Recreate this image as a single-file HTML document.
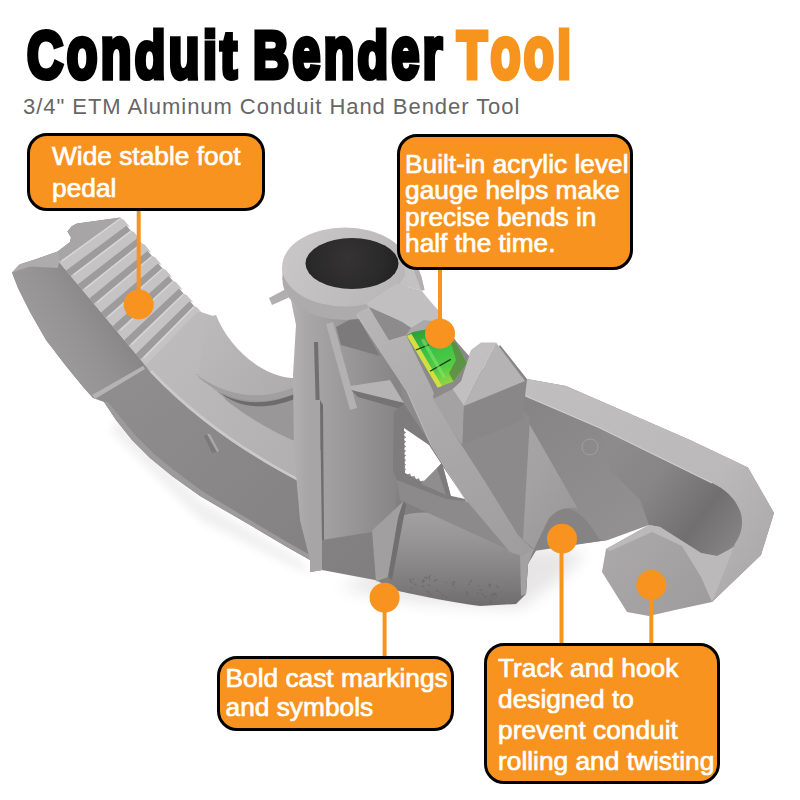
<!DOCTYPE html>
<html><head><meta charset="utf-8">
<style>
html,body{margin:0;padding:0;background:#fff;}
body{width:800px;height:800px;overflow:hidden;position:relative;font-family:"Liberation Sans",sans-serif;}
#stage{position:absolute;left:0;top:0;width:800px;height:800px;}
.w{position:absolute;top:14.5px;white-space:nowrap;transform-origin:0 0;font-weight:bold;color:#000;font-family:"Liberation Sans",sans-serif;font-size:66px;line-height:80px;-webkit-text-stroke:5px;letter-spacing:4.5px}
.w b{display:inline-block;font-weight:bold;transform:scaleY(1.13);transform-origin:0 63px}
.w.o{color:#f7941d}
.sub{position:absolute;left:23px;top:93.5px;font-size:22px;line-height:26px;color:#666;white-space:nowrap;letter-spacing:0.95px;}
.box{position:absolute;box-sizing:border-box;background:#f7931e;border:3px solid #000;border-radius:20px;color:#fff;font-size:26.3px;line-height:31px;-webkit-text-stroke:0.7px #fff;}
</style></head>
<body>
<div id="stage">
<svg id="art" width="800" height="800" viewBox="0 0 800 800" style="position:absolute;left:0;top:0">
<defs><filter id="blur8" x="-30%" y="-30%" width="160%" height="160%"><feGaussianBlur stdDeviation="8"/></filter><filter id="blur4" x="-30%" y="-30%" width="160%" height="160%"><feGaussianBlur stdDeviation="4"/></filter><filter id="blur2" x="-30%" y="-30%" width="160%" height="160%"><feGaussianBlur stdDeviation="2"/></filter><filter id="blur1" x="-30%" y="-30%" width="160%" height="160%"><feGaussianBlur stdDeviation="1"/></filter><linearGradient id="gBody" gradientUnits="userSpaceOnUse" x1="120" y1="380" x2="330" y2="600"><stop offset="0" stop-color="#8f8d8d"/><stop offset="0.45" stop-color="#898787"/><stop offset="1" stop-color="#817f7f"/></linearGradient><linearGradient id="gSide" gradientUnits="userSpaceOnUse" x1="35" y1="330" x2="95" y2="290"><stop offset="0" stop-color="#9c9a9a"/><stop offset="0.5" stop-color="#949292"/><stop offset="1" stop-color="#888686"/></linearGradient><linearGradient id="gRim" gradientUnits="userSpaceOnUse" x1="150" y1="370" x2="300" y2="480"><stop offset="0" stop-color="#bdbbbb"/><stop offset="1" stop-color="#b1afaf"/></linearGradient><linearGradient id="gHorn" gradientUnits="userSpaceOnUse" x1="213" y1="320" x2="295" y2="390"><stop offset="0" stop-color="#bbb9b9"/><stop offset="1" stop-color="#aeacac"/></linearGradient><linearGradient id="gArm" gradientUnits="userSpaceOnUse" x1="540" y1="400" x2="640" y2="540"><stop offset="0" stop-color="#878585"/><stop offset="1" stop-color="#939191"/></linearGradient><linearGradient id="gWeb" gradientUnits="userSpaceOnUse" x1="450" y1="430" x2="580" y2="520"><stop offset="0" stop-color="#aaa8a8"/><stop offset="0.6" stop-color="#a4a2a2"/><stop offset="1" stop-color="#9a9898"/></linearGradient><linearGradient id="gRimA" gradientUnits="userSpaceOnUse" x1="520" y1="380" x2="770" y2="560"><stop offset="0" stop-color="#c0bebe"/><stop offset="0.7" stop-color="#bbb9b9"/><stop offset="1" stop-color="#aba9a9"/></linearGradient><linearGradient id="gU" gradientUnits="userSpaceOnUse" x1="610" y1="450" x2="735" y2="545"><stop offset="0" stop-color="#8d8b8b"/><stop offset="0.35" stop-color="#878585"/><stop offset="0.72" stop-color="#716f6f"/><stop offset="1" stop-color="#858383"/></linearGradient><linearGradient id="gHook" gradientUnits="userSpaceOnUse" x1="610" y1="530" x2="700" y2="610"><stop offset="0" stop-color="#aba9a9"/><stop offset="1" stop-color="#9e9c9c"/></linearGradient><linearGradient id="gElbow" gradientUnits="userSpaceOnUse" x1="440" y1="505" x2="440" y2="605"><stop offset="0" stop-color="#a5a3a3"/><stop offset="0.35" stop-color="#979595"/><stop offset="0.8" stop-color="#7d7b7b"/><stop offset="1" stop-color="#6f6d6d"/></linearGradient><linearGradient id="gCol" gradientUnits="userSpaceOnUse" x1="283" y1="0" x2="396" y2="0"><stop offset="0" stop-color="#b9b7b7"/><stop offset="0.2" stop-color="#a9a7a7"/><stop offset="0.5" stop-color="#9d9b9b"/><stop offset="1" stop-color="#878585"/></linearGradient><linearGradient id="gRing" gradientUnits="userSpaceOnUse" x1="283" y1="230" x2="414" y2="310"><stop offset="0" stop-color="#cac8c8"/><stop offset="1" stop-color="#b5b3b3"/></linearGradient><radialGradient id="gHole" gradientUnits="userSpaceOnUse" cx="348" cy="258" r="50" ><stop offset="0" stop-color="#353333"/><stop offset="0.7" stop-color="#2b2a2a"/><stop offset="1" stop-color="#232222"/></radialGradient><linearGradient id="gBrace" gradientUnits="userSpaceOnUse" x1="360" y1="320" x2="530" y2="550"><stop offset="0" stop-color="#b7b5b5"/><stop offset="0.5" stop-color="#aaa8a8"/><stop offset="1" stop-color="#9f9d9d"/></linearGradient><linearGradient id="gVial" gradientUnits="userSpaceOnUse" x1="420" y1="325" x2="446" y2="390"><stop offset="0" stop-color="#2c9637"/><stop offset="0.35" stop-color="#37c044"/><stop offset="0.7" stop-color="#55cc44"/><stop offset="1" stop-color="#a8d840"/></linearGradient></defs>
<path d="M340,588 L420,602 L520,608 L565,575 L585,552 L545,548 L400,560Z" fill="#e7e5e5" filter="url(#blur8)"/>
<path d="M120,420 L200,500 L300,560 L310,575 L200,520 L110,430Z" fill="#f0f0f0" filter="url(#blur4)"/>
<path d="M12,272.5 L59,262 L145,365 L296,440 L400,440 L470,496 L522,552 L537,549 L528,564 L526,592 L510,603 L480,603 C450,600 425,596 399,591 L375,580 L322,570 L310,572 L310,560 L287,547 L250,525 L224,510 L200,496 L172,476 L150,458 L132,440 L116,420 L104,402 L93,398 L97,392 L93,398 L84,388 L66,366 L46,340 L30,312 L18,288 Z" fill="url(#gBody)" />
<path d="M104,402 L116,420 L132,440 L150,458 L172,476 L200,496 L224,510 L250,525 L287,547 L310,560 L310,555 L287,542 L250,520 L225,505 L202,491 L175,471 L153,453 L136,436 L120,417 L108,402Z" fill="#9c9a9a" />
<path d="M12,272.5 L19.5,264.5 L35,259.5 L57.7,251.6 L70,242 L71,237.5 L67.4,231.5 L71.7,226.2 L77,223.6 L120.7,217.5 L59,262 L145,365 L97,392 L93,398 L84,388 L66,366 L46,340 L30,312 L18,288Z" fill="url(#gSide)" />
<path d="M19.5,264.5 L35.0,259.5 L57.7,251.6 L70.0,242.0 L71.0,237.5 L67.4,231.5 L71.7,226.2 L77.0,223.6 L120.7,217.5 L59.5,261.5 L30.0,267.0Z" fill="#a7a5a5" />
<path d="M12.0,272.5 L19.5,264.5 L35.0,259.5 L57.7,251.6 L59.5,261.5 L57.7,268.0 L30.0,266.5Z" fill="#adabab" />
<path d="M92.0,395.0 L143.0,366.0 L145.0,369.0 L95.0,399.0Z" fill="#b5b3b3" />
<path d="M145,365 L198,311 L213,316 L214,324 L198,376 L228,401 C250,418 275,432 297,441 L298,481 C258,460 200,425 150,372Z" fill="url(#gRim)" />
<path d="M150,372 C200,425 258,460 298,481 L298,478 C258,457 200,421 152,370Z" fill="#cbc9c9" />
<path d="M59.0,262.0 L120.0,218.0 L198.0,311.0 L145.0,365.0Z" fill="#b3b1b1" />
<path d="M59.0,262.0 L120.0,218.0 L123.5,219.5 L130.0,227.3 L126.5,225.8 L66.2,270.6Z" fill="#c5c3c3" />
<path d="M62.0,261.0 L120.0,219.0" stroke="#d7d5d5" stroke-width="1.4" fill="none"/>
<path d="M66.2,270.6 L126.5,225.8 L130.5,230.6 L70.6,275.9Z" fill="#9d9b9b" />
<path d="M70.6,275.9 L130.5,230.6 L134.0,232.1 L140.6,239.9 L137.1,238.4 L77.8,284.5Z" fill="#c5c3c3" />
<path d="M73.6,274.9 L130.5,231.6" stroke="#d7d5d5" stroke-width="1.4" fill="none"/>
<path d="M77.8,284.5 L137.1,238.4 L141.1,243.1 L82.2,289.8Z" fill="#9d9b9b" />
<path d="M82.2,289.8 L141.1,243.1 L144.6,244.6 L151.1,252.4 L147.6,250.9 L89.4,298.5Z" fill="#c5c3c3" />
<path d="M85.2,288.8 L141.1,244.1" stroke="#d7d5d5" stroke-width="1.4" fill="none"/>
<path d="M89.4,298.5 L147.6,250.9 L151.6,255.7 L93.9,303.8Z" fill="#9d9b9b" />
<path d="M93.9,303.8 L151.6,255.7 L155.1,257.2 L161.7,265.0 L158.2,263.5 L101.1,312.4Z" fill="#c5c3c3" />
<path d="M96.9,302.8 L151.6,256.7" stroke="#d7d5d5" stroke-width="1.4" fill="none"/>
<path d="M101.1,312.4 L158.2,263.5 L162.2,268.3 L105.5,317.7Z" fill="#9d9b9b" />
<path d="M105.5,317.7 L162.2,268.3 L165.7,269.8 L172.2,277.6 L168.7,276.1 L112.7,326.3Z" fill="#c5c3c3" />
<path d="M108.5,316.7 L162.2,269.3" stroke="#d7d5d5" stroke-width="1.4" fill="none"/>
<path d="M112.7,326.3 L168.7,276.1 L172.7,280.8 L117.1,331.6Z" fill="#9d9b9b" />
<path d="M117.1,331.6 L172.7,280.8 L176.2,282.3 L182.7,290.1 L179.2,288.6 L124.3,340.2Z" fill="#c5c3c3" />
<path d="M120.1,330.6 L172.7,281.8" stroke="#d7d5d5" stroke-width="1.4" fill="none"/>
<path d="M124.3,340.2 L179.2,288.6 L183.2,293.4 L128.7,345.5Z" fill="#9d9b9b" />
<path d="M128.7,345.5 L183.2,293.4 L186.7,294.9 L193.3,302.7 L189.8,301.2 L135.9,354.1Z" fill="#c5c3c3" />
<path d="M131.7,344.5 L183.2,294.4" stroke="#d7d5d5" stroke-width="1.4" fill="none"/>
<path d="M135.9,354.1 L189.8,301.2 L193.8,306.0 L140.4,359.4Z" fill="#9d9b9b" />
<path d="M140.4,359.4 L193.8,306.0 L197.3,307.5 L201.5,312.5 L198.0,311.0 L145.0,365.0Z" fill="#c5c3c3" />
<path d="M143.4,358.4 L193.8,307.0" stroke="#d7d5d5" stroke-width="1.4" fill="none"/>
<path d="M196.0,374.0 L232.0,405.0 L297.0,405.0 L297.0,380.0Z" fill="#a7a5a5" />
<path d="M222,392 C245,400 272,398 297,386 L297,442 C275,433 250,419 226,400Z" fill="#999797" />
<path d="M207,317 L216,315 C228,345 258,375 292,378 L297,378 L297,387 C262,401 230,398 198,376Z" fill="url(#gHorn)" />
<path d="M198,376 C230,398 262,401 297,386 L297,393 C262,407 228,403 198,377Z" fill="#a19f9f" />
<path d="M217,391 C237,404 265,407 297,393 L297,398 C265,411 240,409 217,391Z" fill="#6d6b6b" />
<path d="M204.0,436.0 L207.0,434.0 L217.0,452.0 L212.0,453.0Z" fill="#7b7979" />
<path d="M207.0,434.0 L210.0,434.0 L219.0,451.0 L217.0,452.0Z" fill="#a9a7a7" />
<path d="M440.0,430.0 L500.0,345.0 L527.0,379.0 L566.0,386.0 L690.0,440.0 L748.0,467.5 L774.0,513.0 L761.0,555.0 L712.0,602.0 L700.0,577.0 L682.0,546.0 L660.0,527.0 L649.0,525.0 L608.0,540.0 L534.0,550.0 L522.0,556.0 L470.0,496.0Z" fill="url(#gArm)" />
<path d="M534,549 C540,530 548,512 562,509 C576,507 586,518 600,540 L608,540 L534,551Z" fill="#858383" />
<path d="M454,435 L474,442 L530,418 L527,420 L578,509 C570,506 556,508 548,520 L534,549 L518,535 L484,480Z" fill="url(#gWeb)" />
<circle cx="590" cy="447" r="8" fill="none" stroke="#a09f9d" stroke-width="1"/>
<path d="M527,379 L566,386 L690,440 L748,467.5 L774,513 L761,555 L712,602 L700,577 L717,556 L734,547 L742,522 L734,500 L712,483 L600,428 L525,396Z" fill="url(#gRimA)" />
<path d="M600,428 L712,483 C728,490 742,505 742,522 C742,540 730,552 717,556 L701,553 L690,546 L660,527 L649,525 L640,500 L610,470Z" fill="url(#gU)" />
<path d="M606.0,549.0 L649.0,525.0 L660.0,527.0 L690.0,546.0 L701.0,553.0 L717.0,556.0 L712.0,602.0 L675.0,610.0 L649.0,616.0 L627.0,612.0 L602.0,572.0Z" fill="url(#gHook)" />
<path d="M649.0,525.0 L660.0,527.0 L690.0,546.0 L701.0,553.0 L717.0,556.0 L734.0,547.0 L712.0,602.0 L701.0,577.0 L682.0,546.0 L652.0,532.0 L610.0,551.0 L606.0,549.0Z" fill="#bbb9b9" />
<path d="M395,518 C420,508 455,512 484,526 L522,556 L524,550 L534,549 L528,564 L526,594 L516,604 L480,606 C450,602 425,597 399,591 L386,580 Z" fill="url(#gElbow)" />
<path d="M520.0,554.0 L524.0,550.0 L534.0,549.0 L528.0,564.0 L526.0,594.0 L521.0,596.0Z" fill="#a3a1a1" />
<path d="M357.0,314.0 L420.0,300.0 L470.0,357.0 L530.0,418.0 L522.0,556.0 L400.0,500.0 L390.0,440.0Z" fill="#8c8a8a" />
<path d="M283.0,270.0 L291.0,300.0 L296.0,325.0 L293.0,375.0 L294.0,450.0 L300.0,520.0 L310.0,560.0 L310.0,572.0 L322.0,570.0 L322.0,540.0 L372.0,532.0 L395.0,518.0 L397.0,480.0 L397.0,425.0 L404.0,407.0 L392.0,330.0 L404.0,285.0Z" fill="url(#gCol)" />
<path d="M314.0,342.0 L318.0,342.0 L321.0,450.0 L317.0,450.0Z" fill="#716f6f" />
<path d="M310.0,400.0 L320.0,400.0 L322.0,570.0 L310.0,572.0Z" fill="#a7a5a5" />
<path d="M320.0,400.0 L323.0,405.0 L324.0,540.0 L322.0,540.0Z" fill="#6f6d6d" />
<path d="M326.0,324.0 L333.0,322.0 L357.0,408.0 L350.0,410.0Z" fill="#b3b1b1" />
<path d="M336.0,327.0 L357.0,316.0 L380.0,356.0 L341.0,345.0Z" fill="#7c7a7a" />
<path d="M350.0,386.0 L390.0,380.0 L404.0,403.0 L352.0,392.0Z" fill="#b5b3b3" />
<path d="M351.0,390.0 L404.0,403.0 L404.0,410.0 L358.0,397.0Z" fill="#757373" />
<ellipse cx="345" cy="280" rx="62.5" ry="40" fill="#adabab"/>
<path d="M282.5,267.0 L407.5,267.0 L407.5,280.0 L282.5,280.0Z" fill="#adabab" />
<ellipse cx="345" cy="267" rx="63" ry="39.5" fill="url(#gRing)"/>
<ellipse cx="352" cy="263.5" rx="46.5" ry="25.5" fill="url(#gHole)"/>
<path d="M404.0,258.0 L410.0,261.0 L418.0,268.0 L421.5,277.0 L424.5,290.0 L421.5,290.5 L399.0,285.0 L405.0,275.0Z" fill="#c3c1c1" />
<path d="M418.0,268.0 L421.5,277.0 L424.5,290.0 L421.5,290.5 L417.0,279.0 L414.0,271.0Z" fill="#b1afaf" />
<path d="M269.0,298.0 L286.0,289.0 L290.0,297.0 L272.0,305.0Z" fill="#b1afaf" />
<path d="M356.0,313.5 L369.0,307.0 L389.0,340.0 L406.0,335.0 L434.0,393.0 L433.0,397.0 L455.0,435.0 L484.0,480.0 L518.0,535.0 L533.0,550.0 L522.0,556.0 L510.0,552.0 L467.0,501.0 L431.0,444.0 L407.0,390.0 L387.0,360.0Z" fill="url(#gBrace)" />
<path d="M369.0,307.0 L366.0,303.5 L396.0,284.0 L421.5,290.5 L430.0,301.0 L438.0,310.0 L442.0,318.0 L430.0,330.0 L420.5,335.0 L416.0,331.5 L411.0,328.0 L402.0,322.0Z" fill="#c1bfbf" />
<path d="M369.0,307.0 L402.0,322.0 L411.0,328.0 L406.0,335.0 L389.0,340.0Z" fill="#8d8b8b" />
<path d="M411.0,328.0 L416.0,331.5 L420.5,335.0 L430.0,330.0 L442.0,318.0 L467.0,360.0 L452.0,380.0 L440.0,388.0 L434.0,393.0Z" fill="#8b8989" />
<path d="M406.0,335.0 L411.0,328.0 L424.0,320.0 L440.0,322.0 L430.0,331.0 L413.0,333.0Z" fill="#aaa8a8" />
<path d="M406.8,335.8 L413.0,332.0 L428.0,329.0 L456.0,343.0 L467.0,363.4 L453.5,381.4 L437.7,387.5Z" fill="url(#gVial)" />
<path d="M450.0,339.0 L456.0,343.0 L467.0,363.4 L453.5,381.4 L449.0,373.0 L456.0,360.0Z" fill="#5c8a45" opacity="0.85"/>
<path d="M406.8,335.8 L411.5,334.0 L442.0,386.0 L437.7,387.5Z" fill="#d4de44" />
<path d="M415.8,350 L428.7,344.8 M430,371.2 L450.7,359.4" stroke="#163d18" stroke-width="1.3" fill="none"/>
<path d="M433.0,399.0 L452.5,389.0 L464.0,406.0 L462.5,445.0 L455.0,435.0Z" fill="#a4a2a2" />
<path d="M464.0,406.0 L525.0,381.0 L523.0,420.0 L462.5,445.0Z" fill="#898787" />
<path d="M471.0,350.0 L481.0,342.5 L496.0,342.5 L464.0,406.0 L452.5,389.0 L461.0,381.0Z" fill="#c1bfbf" />
<path d="M496.0,342.5 L525.0,381.0 L464.0,406.0Z" fill="#b5b3b3" />
<path d="M452.5,389.0 L461.0,381.0 L467.0,360.0 L471.0,350.0 L466.0,364.0 L458.0,378.0Z" fill="#8b8989" />
<path d="M394.0,412.0 L404.0,404.0 L431.0,444.0 L467.0,501.0 L446.0,499.0 L397.0,480.0 L393.0,470.0Z" fill="#7e7c7c" />
<path d="M404.0,428.0 L429.0,445.0 L444.0,468.0 L465.0,499.0 L447.0,495.0 L405.0,473.0Z" fill="#fff" />
<path d="M404,431.0 l2.2,1.6 l-2.2,1.6Z M404,435.6 l2.2,1.6 l-2.2,1.6Z M404,440.2 l2.2,1.6 l-2.2,1.6Z M404,444.8 l2.2,1.6 l-2.2,1.6Z M404,449.4 l2.2,1.6 l-2.2,1.6Z M404,454.0 l2.2,1.6 l-2.2,1.6Z M404,458.6 l2.2,1.6 l-2.2,1.6Z M404,463.2 l2.2,1.6 l-2.2,1.6Z M404,467.8 l2.2,1.6 l-2.2,1.6Z M407.0,474.5 l3,-1 l1.4,3.2Z M411.4,476.8 l3,-1 l1.4,3.2Z M415.9,479.2 l3,-1 l1.4,3.2Z M420.3,481.5 l3,-1 l1.4,3.2Z M424.8,483.8 l3,-1 l1.4,3.2Z M429.2,486.2 l3,-1 l1.4,3.2Z M433.7,488.5 l3,-1 l1.4,3.2Z M438.1,490.8 l3,-1 l1.4,3.2Z M442.6,493.2 l3,-1 l1.4,3.2Z " fill="#8b8989" />
<path d="M421.0,484.0 L442.0,462.7 L451.0,496.7Z" fill="#8f8d8d" />
<path d="M437.0,468.0 L442.0,462.7 L451.0,496.7 L446.0,495.0Z" fill="#7d7b7b" />
<path d="M372.0,530.6 L403.7,501.0 L398.0,518.0 L388.0,577.0 L376.0,581.6Z" fill="#a19f9f" />
<path d="M398.0,518.0 L403.7,501.0 L406.0,505.0 L392.0,580.0 L388.0,577.0Z" fill="#716f6f" />
<path d="M429.7,579.8 l-0.6,-2.1 M414.1,583.8 l2.5,1.8 M478.4,586.3 l0.2,-1.3 M423.9,579.3 l-1.7,2.6 M484.3,597.4 l1.8,-1.8 M436.5,589.9 l1.4,2.1 M489.0,584.8 l0.6,1.0 M454.5,583.4 l-0.2,-2.5 M494.0,599.3 l0.3,-1.2 M491.6,593.8 l2.3,2.1 M454.8,587.7 l0.6,-0.4 M422.8,582.8 l1.9,-2.7 M412.3,587.7 l-1.3,0.2 M451.4,586.1 l3.0,-1.8 M446.0,583.1 l0.8,-1.3 M440.7,592.4 l-1.1,0.4 M491.2,585.3 l-2.6,-1.6 M478.4,593.4 l-1.6,-1.0 M424.3,585.7 l-2.7,1.2 M490.4,600.6 l1.4,2.8 M409.7,581.4 l2.8,1.7 M445.8,596.4 l0.7,1.9 M435.0,581.9 l-0.3,-2.2 M443.1,596.5 l-1.0,-2.9 M412.1,579.4 l1.7,-0.8 M434.7,580.2 l2.9,-0.5 M427.1,578.8 l-2.7,-2.0 M470.3,584.3 l-2.8,-0.1 M430.9,596.0 l-2.3,0.2 M479.2,589.8 l2.9,-0.1 M430.3,585.4 l-2.8,-0.5 M430.9,594.1 l2.0,-0.0 M410.9,580.8 l-1.5,-1.8 M429.3,593.6 l-2.1,-2.7 M493.4,593.9 l2.9,-0.6 M490.9,595.2 l1.7,1.5 M453.5,581.8 l-1.7,2.2 M490.8,600.1 l-1.0,0.9 M481.6,594.2 l1.9,0.2 M468.2,593.8 l-1.4,2.5 M496.0,585.3 l2.8,2.8 M469.5,582.3 l2.4,-2.2 M497.1,596.0 l-2.6,-2.0 M466.4,591.5 l1.5,2.6 M428.1,577.9 l2.5,-2.9 M488.6,585.3 l1.9,1.7 " stroke="#676565" stroke-width="1.1" fill="none" opacity="0.7"/>
<path d="M421.0,340.0 L424.0,338.5 L446.0,377.0 L443.0,378.5Z" fill="#8fe87a" opacity="0.5"/>
<path d="M525.5,396 L600,428 L712,483" stroke="#d0cece" stroke-width="1.2" fill="none"/>
<path d="M357,315 L387,361 L407,391 L431,445 L467,502" stroke="#c5c3c3" stroke-width="1.2" fill="none" opacity="0.8"/>
<rect x="136.7" y="209.0" width="4" height="95.5" fill="#f7931e"/>
<circle cx="138.7" cy="304.5" r="15" fill="#f7931e"/>
<rect x="438.0" y="268.0" width="4" height="65.7" fill="#f7931e"/>
<circle cx="440" cy="333.7" r="15" fill="#f7931e"/>
<rect x="382.6" y="597.7" width="4" height="60.3" fill="#f7931e"/>
<circle cx="384.6" cy="597.7" r="15" fill="#f7931e"/>
<rect x="559.5" y="538.7" width="4" height="106.3" fill="#f7931e"/>
<circle cx="562" cy="538.7" r="15" fill="#f7931e"/>
<rect x="649.3" y="585.0" width="4" height="60.0" fill="#f7931e"/>
<circle cx="651.3" cy="585" r="15" fill="#f7931e"/>
</svg>
<div class="w" style="left:27px;transform:scaleX(0.76)">C<b>on</b>d<b>u</b>it</div>
<div class="w" style="left:252.5px;transform:scaleX(0.757)">B<b>en</b>d<b>er</b></div>
<div class="w o" style="left:457px;transform:scaleX(0.745)">T<b>oo</b>l</div>
<div class="sub">3/4" ETM Aluminum Conduit Hand Bender Tool</div>
<div class="box" style="left:27px;top:133px;width:238px;height:78px;padding:5px 0 0 22px;line-height:31.5px;">Wide stable foot<br>pedal</div>
<div class="box" style="left:397px;top:134px;width:236px;height:136px;padding:13.5px 0 0 5px;line-height:26.5px;">Built-in acrylic level<br>gauge helps make<br>precise bends in<br>half the time.</div>
<div class="box" style="left:217px;top:656px;width:237px;height:75px;padding:5px 0 0 5.5px;line-height:29px;">Bold cast markings<br>and symbols</div>
<div class="box" style="left:484px;top:643px;width:236px;height:141px;padding:7px 0 0 11px;line-height:31px;">Track and hook<br>designed to<br>prevent conduit<br>rolling and twisting</div>
</div>
</body></html>
